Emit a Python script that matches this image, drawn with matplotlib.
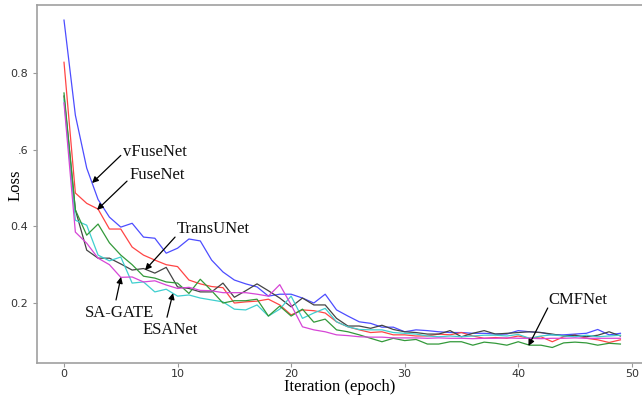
import matplotlib
matplotlib.use("Agg")
import matplotlib.pyplot as plt

epochs = list(range(50))

vfusenet = [0.938, 0.690, 0.552, 0.470, 0.424, 0.398, 0.408, 0.372, 0.369, 0.330,
            0.343, 0.367, 0.362, 0.312, 0.281, 0.260, 0.250, 0.242, 0.218, 0.223,
            0.223, 0.213, 0.200, 0.223, 0.182, 0.166, 0.151, 0.147, 0.137, 0.137,
            0.125, 0.130, 0.128, 0.125, 0.123, 0.123, 0.121, 0.121, 0.119, 0.119,
            0.128, 0.125, 0.123, 0.117, 0.117, 0.119, 0.121, 0.131, 0.117, 0.121]

fusenet = [0.828, 0.487, 0.460, 0.445, 0.393, 0.393, 0.346, 0.325, 0.312, 0.300,
           0.295, 0.260, 0.250, 0.243, 0.240, 0.200, 0.203, 0.205, 0.210, 0.195,
           0.169, 0.182, 0.180, 0.174, 0.151, 0.138, 0.130, 0.123, 0.125, 0.117,
           0.117, 0.114, 0.114, 0.119, 0.117, 0.123, 0.114, 0.108, 0.110, 0.108,
           0.114, 0.108, 0.112, 0.099, 0.112, 0.116, 0.108, 0.104, 0.097, 0.104]

cmfnet = [0.748, 0.443, 0.377, 0.406, 0.357, 0.325, 0.300, 0.270, 0.265, 0.255,
          0.252, 0.225, 0.262, 0.232, 0.200, 0.206, 0.206, 0.210, 0.166, 0.192,
          0.166, 0.184, 0.150, 0.158, 0.130, 0.125, 0.117, 0.108, 0.099, 0.108,
          0.102, 0.105, 0.093, 0.093, 0.099, 0.099, 0.090, 0.098, 0.095, 0.090,
          0.099, 0.090, 0.090, 0.084, 0.096, 0.098, 0.096, 0.090, 0.095, 0.093]

esanet = [0.730, 0.416, 0.403, 0.325, 0.310, 0.320, 0.252, 0.255, 0.229, 0.236,
          0.218, 0.221, 0.213, 0.208, 0.203, 0.184, 0.182, 0.195, 0.166, 0.184,
          0.218, 0.160, 0.174, 0.186, 0.151, 0.138, 0.131, 0.130, 0.130, 0.123,
          0.121, 0.119, 0.114, 0.112, 0.114, 0.112, 0.114, 0.116, 0.116, 0.114,
          0.118, 0.108, 0.114, 0.117, 0.114, 0.112, 0.116, 0.112, 0.114, 0.116]

sagate = [0.722, 0.385, 0.356, 0.317, 0.300, 0.267, 0.268, 0.255, 0.258, 0.247,
          0.238, 0.241, 0.233, 0.232, 0.227, 0.227, 0.227, 0.223, 0.218, 0.248,
          0.195, 0.138, 0.130, 0.125, 0.117, 0.115, 0.112, 0.111, 0.111, 0.109,
          0.109, 0.109, 0.108, 0.109, 0.108, 0.108, 0.107, 0.108, 0.108, 0.109,
          0.108, 0.108, 0.107, 0.108, 0.108, 0.109, 0.108, 0.108, 0.108, 0.108]

transunet = [0.740, 0.443, 0.338, 0.317, 0.317, 0.302, 0.286, 0.290, 0.278, 0.293,
             0.242, 0.238, 0.229, 0.229, 0.252, 0.215, 0.232, 0.250, 0.232, 0.213,
             0.190, 0.213, 0.195, 0.195, 0.160, 0.140, 0.140, 0.134, 0.142, 0.131,
             0.125, 0.123, 0.119, 0.119, 0.128, 0.112, 0.121, 0.128, 0.119, 0.121,
             0.123, 0.125, 0.123, 0.119, 0.114, 0.116, 0.112, 0.116, 0.125, 0.114]

yticks = [0.2, 0.4, 0.6, 0.8]
ytick_labels = ["0.2", "0.4", ".6", "0.8"]
xticks = [0, 10, 20, 30, 40, 50]

fig = plt.figure(figsize=(6.42, 3.97), dpi=100)
ax = fig.add_axes([0.0576, 0.0856, 0.9424, 0.9014])

series = [
    (vfusenet, "#4d4dff"),
    (fusenet, "#ff4545"),
    (transunet, "#444444"),
    (esanet, "#3fcfcf"),
    (cmfnet, "#33993a"),
    (sagate, "#d646d6"),
]
for vals, c in series:
    ax.plot(epochs, vals, color=c, lw=0.9)

ax.set_xlim(-2.38, 50.9)
ax.set_ylim(0.0435, 0.977)
ax.set_yticks(yticks)
ax.set_yticklabels(ytick_labels)
ax.set_xticks(xticks)
ax.tick_params(labelsize=8, colors="#333333", length=3, width=0.8)
ax.tick_params(axis="both", color="#999999")
ax.tick_params(axis="x", pad=1.5)

for s in ["left", "top", "bottom"]:
    ax.spines[s].set_color("#a0a0a0")
    ax.spines[s].set_linewidth(1.2)
ax.spines["right"].set_visible(False)

serif = ["Liberation Serif", "DejaVu Serif"]
fig.text(340 / 642, 1 - 387 / 397, "Iteration (epoch)", family=serif, fontsize=12,
         ha="center", va="center")
fig.text(16 / 642, 1 - 185 / 397, "Loss", family=serif, fontsize=12,
         ha="center", va="center", rotation=90)

arrow = dict(arrowstyle="-|>", color="black", lw=0.9, mutation_scale=9,
             shrinkA=0, shrinkB=0)
notes = [
    ("vFuseNet", (2.47, 0.513), (5.0, 0.585), (5.2, 0.594), "left"),
    ("FuseNet", (2.91, 0.443), (5.55, 0.518), (5.73, 0.534), "left"),
    ("TransUNet", (7.14, 0.286), (9.78, 0.372), (9.96, 0.393), "left"),
    ("SA-GATE", (5.02, 0.268), (4.58, 0.208), (4.93, 0.174), "center"),
    ("ESANet", (9.6, 0.226), (9.07, 0.163), (9.34, 0.130), "center"),
    ("CMFNet", (40.9, 0.088), (42.6, 0.187), (42.64, 0.208), "left"),
]
for label, tip, tail, tpos, ha in notes:
    ax.annotate("", xy=tip, xytext=tail, arrowprops=arrow)
    ax.text(tpos[0], tpos[1], label, family=serif, fontsize=12,
            ha=ha, va="center", color="#111111")

fig.savefig("out.png", dpi=100)
